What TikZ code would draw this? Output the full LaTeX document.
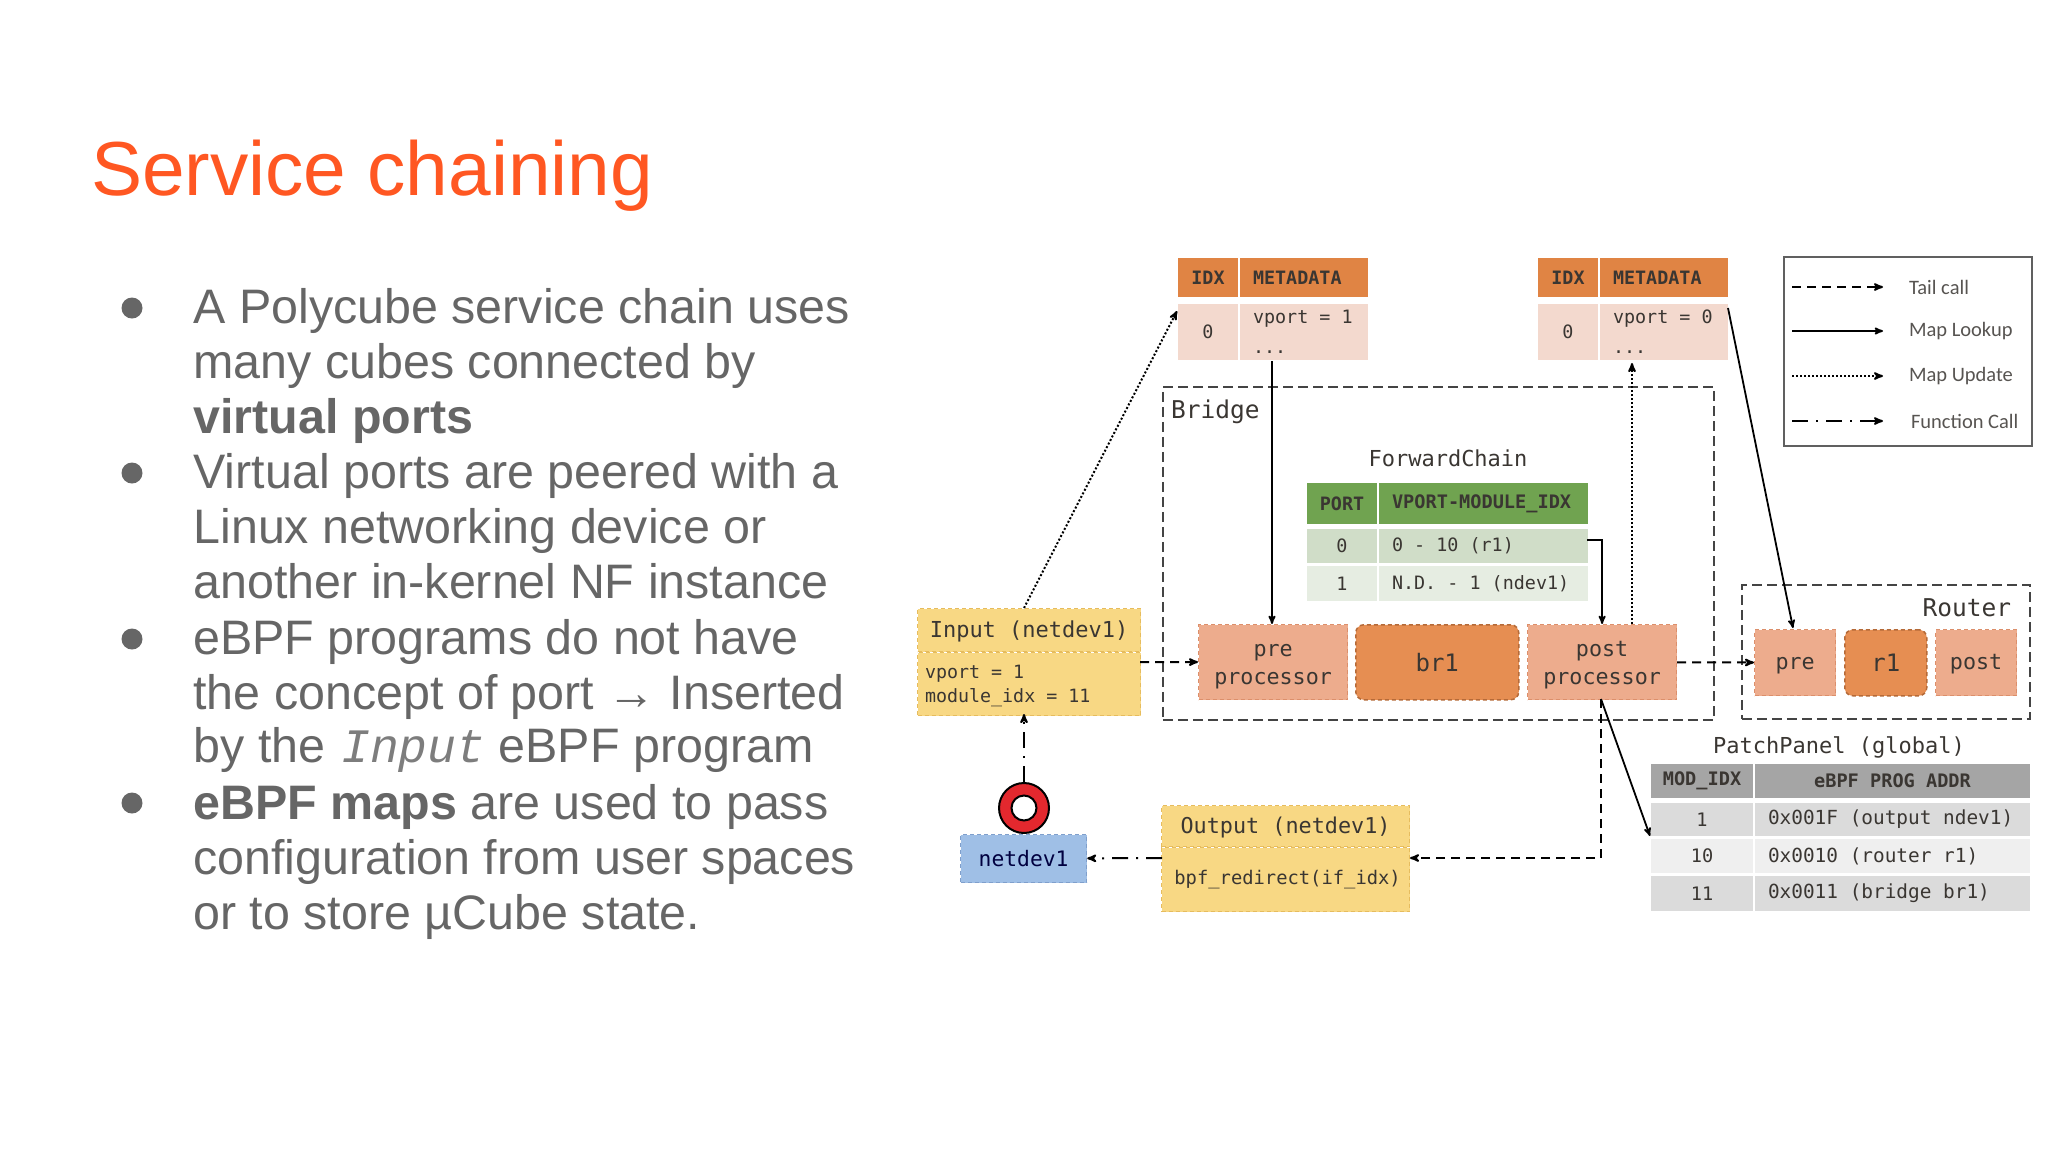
\documentclass[tikz,border=0pt]{standalone}
\usepackage{fontspec}
\setmainfont{Liberation Sans}
\newfontfamily\diagmono{DejaVu Sans Mono}
\newfontfamily\legendfont{Carlito}
\newfontfamily\inputfont{Liberation Mono}
\usetikzlibrary{graphs, arrows, positioning}

\definecolor{titleorange}{HTML}{FF5722}
\definecolor{bodygrey}{HTML}{666666}
\definecolor{inktext}{HTML}{3A3632}
\definecolor{hdrorange}{HTML}{E08444}
\definecolor{cellorange}{HTML}{F3D9CE}
\definecolor{hdrgreen}{HTML}{70A350}
\definecolor{rowgreena}{HTML}{D0DDC8}
\definecolor{rowgreenb}{HTML}{E6EDE2}
\definecolor{hdrgrey}{HTML}{A5A5A5}
\definecolor{rowgreya}{HTML}{DBDBDB}
\definecolor{rowgreyb}{HTML}{EFEFEF}
\definecolor{procfill}{HTML}{EDAC8D}
\definecolor{procdash}{HTML}{DC8F6B}
\definecolor{cubefill}{HTML}{E68E52}
\definecolor{cubedash}{HTML}{B56A38}
\definecolor{yellowfill}{HTML}{F8D884}
\definecolor{yellowdash}{HTML}{E6BC5E}
\definecolor{bluefill}{HTML}{9FBFE6}
\definecolor{bluedash}{HTML}{7F9FCC}
\definecolor{ringred}{HTML}{E3282E}
\definecolor{groupline}{HTML}{444444}

\newcommand{\monofs}[2]{\diagmono\fontsize{#1}{#2}\selectfont}
\newcommand{\twoup}{\rule{0pt}{22pt}}
\newcommand{\oneup}{\rule{0pt}{19pt}}

\tikzset{
    cellc/.style 2 args={minimum width=#1, minimum height=#2, inner sep=0pt, anchor=center, text=inktext},
    celll/.style 2 args={text width=#1, minimum height=#2, inner xsep=13pt, inner ysep=0pt, align=flush left, anchor=center, text=inktext},
    tablefig/.style={matrix anchor=north west, inner sep=0pt, row sep=0pt, column sep=2pt},
    tailcall/.style={dash pattern=on 9pt off 6pt},
    maplookup/.style={line width=1.8pt},
    mapupdate/.style={dash pattern=on 2pt off 2pt},
    funccall/.style={dash pattern=on 16pt off 8pt on 2pt off 8pt},
    procbox/.style={rectangle, fill=procfill, draw=procdash, line width=1.2pt, dash pattern=on 4pt off 3pt, inner sep=0pt, align=center, text=inktext, font=\monofs{21.7}{28}},
    cubebox/.style={rectangle, rounded corners=8pt, fill=cubefill, draw=cubedash, line width=1.5pt, dash pattern=on 4pt off 3pt, inner sep=0pt, text=inktext},
    yellowbox/.style={rectangle, fill=yellowfill, draw=yellowdash, line width=1.2pt, dash pattern=on 4pt off 3pt, inner sep=0pt, text=inktext},
    groupbox/.style={rectangle, draw=groupline, line width=1.6pt, dash pattern=on 10pt off 5pt, inner sep=0pt, anchor=north west},
    bulletdot/.style={circle, fill=bodygrey, minimum size=21pt, inner sep=0pt},
    bodytext/.style={anchor=north west, inner sep=0pt, align=left, text=bodygrey, font=\fontsize{48.4}{55.4}\selectfont},
}

\begin{document}
\begin{tikzpicture}[
        x=1pt,
        y=-1pt,
        > =stealth',
        line width=2pt,
    ]
    \useasboundingbox (0,0) rectangle (2048,1152);

    \node (title) [anchor=base west, inner sep=0pt, text=titleorange, font=\fontsize{76.6}{80}\selectfont] at (90,195) {Service chaining};

    \node (bulleta) [bulletdot] at (132,308) {};
    \node (bulletb) [bulletdot] at (132,473) {};
    \node (bulletc) [bulletdot] at (132,639) {};
    \node (bulletd) [bulletdot] at (132,803) {};
    \node (texta) [bodytext] at (192.5,287) {A Polycube service chain uses\\many cubes connected by\\\textbf{virtual ports}};
    \node (textb) [bodytext] at (192.5,452) {Virtual ports are peered with a\\Linux networking device or\\another in-kernel NF instance};
    \node (textc) [bodytext] at (192.5,618) {eBPF programs do not have\\the concept of port → Inserted\\[-2.5pt]by the\hspace{2.5pt} {\inputfont\itshape\color{bodygrey!85}\fontsize{48}{55}\selectfont Input} eBPF program};
    \node (textd) [bodytext] at (192.5,783) {\textbf{eBPF maps} are used to pass\\configuration from user spaces\\or to store µCube state.};

    \matrix (idxa) [tablefig] at (1177,257) {
        \node (idxahead) [cellc={60pt}{39pt}, fill=hdrorange, font=\bfseries\monofs{18.4}{22}] {IDX} ; &
        \node (metaahead) [celll={102pt}{39pt}, fill=hdrorange, font=\bfseries\monofs{18.4}{22}] {METADATA} ; \\[7pt]
        \node (idxacell) [cellc={60pt}{56pt}, fill=cellorange, font=\monofs{18.4}{22}] {0} ; &
        \node (metaacell) [celll={102pt}{56pt}, fill=cellorange, font=\monofs{18.4}{30}] {vport = 1\\...} ; \\
    } ;

    \matrix (idxb) [tablefig] at (1537,257) {
        \node (idxbhead) [cellc={60pt}{39pt}, fill=hdrorange, font=\bfseries\monofs{18.4}{22}] {IDX} ; &
        \node (metabhead) [celll={102pt}{39pt}, fill=hdrorange, font=\bfseries\monofs{18.4}{22}] {METADATA} ; \\[7pt]
        \node (idxbcell) [cellc={60pt}{56pt}, fill=cellorange, font=\monofs{18.4}{22}] {0} ; &
        \node (metabcell) [celll={102pt}{56pt}, fill=cellorange, font=\monofs{18.4}{30}] {vport = 0\\...} ; \\
    } ;

    \node (bridge) [groupbox, minimum width=551pt, minimum height=333pt] at (1162,386) {};
    \node (bridgelab) [anchor=west, inner sep=0pt, text=inktext, font=\monofs{24.5}{28}] at (1170,412) {Bridge};
    \node (router) [groupbox, minimum width=288pt, minimum height=134pt] at (1741,584) {};
    \node (routerlab) [anchor=east, inner sep=0pt, text=inktext, font=\monofs{24.5}{28}] at (2012,608) {Router};

    \node (fwtitle) [text=inktext, font=\monofs{22}{26}] at (1448,458) {ForwardChain};
    \matrix (fwtable) [tablefig] at (1306,482) {
        \node (fwhport) [cellc={70pt}{41pt}, fill=hdrgreen, font=\bfseries\monofs{18.4}{22}] {PORT} ; &
        \node (fwhmod) [celll={183pt}{41pt}, fill=hdrgreen, font=\bfseries\monofs{18.6}{22}] {VPORT-MODULE\_IDX} ; \\[5pt]
        \node (fwporta) [cellc={70pt}{34pt}, fill=rowgreena, font=\monofs{18.4}{22}] {0} ; &
        \node (fwmoda) [celll={183pt}{34pt}, fill=rowgreena, font=\monofs{18.4}{22}] {0 - 10 (r1)} ; \\[3pt]
        \node (fwportb) [cellc={70pt}{35pt}, fill=rowgreenb, font=\monofs{18.4}{22}] {1} ; &
        \node (fwmodb) [celll={183pt}{35pt}, fill=rowgreenb, font=\monofs{18.4}{22}] {N.D. - 1 (ndev1)} ; \\
    } ;

    \node (inputtitle) [yellowbox, anchor=north west, minimum width=223pt, minimum height=43pt, font=\monofs{22}{24}] at (917,608) {\rule{0pt}{20pt}Input (netdev1)\hspace{14pt}};
    \node (inputbody) [yellowbox, below=0pt of inputtitle, minimum width=223pt, minimum height=63pt, align=left, font=\monofs{18.3}{24}] {\rule{0pt}{16pt}\makebox[208pt][l]{vport = 1}\\module\_idx = 11};

    \node (prebr) [procbox, anchor=north west, minimum width=149pt, minimum height=75pt] at (1198,624) {\twoup pre\\processor};
    \node (br1) [cubebox, anchor=north west, minimum width=163pt, minimum height=75pt, font=\monofs{24}{28}] at (1355,624) {br1};
    \node (postbr) [procbox, anchor=north west, minimum width=149pt, minimum height=75pt] at (1527,624) {\twoup post\\processor};

    \node (prer) [procbox, anchor=north west, minimum width=81pt, minimum height=66pt] at (1754,629) {\oneup pre};
    \node (r1) [cubebox, anchor=north west, minimum width=82pt, minimum height=66pt, font=\monofs{24}{28}] at (1844,629) {r1\hspace{4pt}};
    \node (postr) [procbox, anchor=north west, minimum width=81pt, minimum height=66pt] at (1935,629) {\oneup post};

    \node (patchtitle) [text=inktext, font=\monofs{22}{26}] at (1839,747) {PatchPanel (global)};
    \matrix (patch) [tablefig] at (1650,763) {
        \node (pthmod) [cellc={102pt}{34pt}, fill=hdrgrey, font=\bfseries\monofs{18.6}{22}] {MOD\_IDX} ; &
        \node (pthaddr) [cellc={275pt}{34pt}, fill=hdrgrey, font=\bfseries\monofs{18.6}{22}] {eBPF PROG ADDR} ; \\[5pt]
        \node (ptmoda) [cellc={102pt}{33pt}, fill=rowgreya, font=\monofs{18.6}{22}] {1} ; &
        \node (ptaddra) [celll={249pt}{33pt}, fill=rowgreya, font=\monofs{19.4}{22}] {0x001F (output ndev1)} ; \\[3pt]
        \node (ptmodb) [cellc={102pt}{34pt}, fill=rowgreyb, font=\monofs{18.6}{22}] {10} ; &
        \node (ptaddrb) [celll={249pt}{34pt}, fill=rowgreyb, font=\monofs{19.4}{22}] {0x0010 (router r1)} ; \\[3pt]
        \node (ptmodc) [cellc={102pt}{35pt}, fill=rowgreya, font=\monofs{18.6}{22}] {11} ; &
        \node (ptaddrc) [celll={249pt}{35pt}, fill=rowgreya, font=\monofs{19.4}{22}] {0x0011 (bridge br1)} ; \\
    } ;

    \node (outputtitle) [yellowbox, anchor=north west, minimum width=248pt, minimum height=41pt, font=\monofs{21.8}{24}] at (1161,805) {\rule{0pt}{19pt}Output (netdev1)};
    \node (outputbody) [yellowbox, below=0pt of outputtitle, minimum width=248pt, minimum height=64pt, font=\monofs{18.8}{24}] {\hspace{4pt}bpf\_redirect(if\_idx)};

    \node (netdev) [rectangle, anchor=north west, fill=bluefill, draw=bluedash, line width=1.2pt, dash pattern=on 4pt off 3pt, minimum width=126pt, minimum height=48pt, inner sep=0pt, text=black!75!blue, font=\monofs{21.3}{24}] at (960,834) {netdev1};
    \node (ring) [circle, fill=ringred, draw=black, line width=2pt, minimum size=50pt, inner sep=0pt] at (1024,808) {};
    \node (ringhole) [circle, fill=white, draw=black, line width=2pt, minimum size=25pt, inner sep=0pt] at (1024,808) {};

    \node (legend) [rectangle, anchor=north west, draw=groupline!85, line width=2pt, minimum width=248pt, minimum height=189pt, inner sep=0pt] at (1783,256) {};
    \foreach \row/\sty/\lab/\rowy/\labx in {
            tail/tailcall/Tail call/287/1908,
            lookup/maplookup/Map Lookup/331/1908,
            update/mapupdate/Map Update/376/1908,
            func/funccall/Function Call/421/1910} {
        \coordinate (\row from) at (1792,\rowy);
        \coordinate (\row to) at (1883,\rowy);
        \draw[->, \sty] (\row from) -- (\row to);
        \node (\row lab) [anchor=west, inner sep=0pt, text=inktext!85, font=\legendfont\fontsize{20.5}{24}\selectfont] at (\labx,\rowy) {\lab};
    }

    \coordinate (inputport) at (1140,662);
    \coordinate (inputtop) at (1024,608);
    \coordinate (inputlow) at (1024,714);
    \coordinate (metaain) at (1177,311);
    \coordinate (metaalow) at (1272,361);
    \coordinate (prebrtop) at (1272,624);
    \coordinate (postbrtop) at (1632,624);
    \coordinate (metablow) at (1632,363);
    \coordinate (metabport) at (1728,308);
    \coordinate (prertop) at (1793,628);
    \coordinate (postbrlow) at (1601,699);
    \coordinate (patchport) at (1650,836);
    \coordinate (fwport) at (1587,540);
    \coordinate (outputeast) at (1410,858);
    \coordinate (outputwest) at (1162,858);

    \graph[use existing nodes]{
        inputport ->[tailcall] prebr ;
        postbr ->[tailcall] prer ;
        inputtop ->[mapupdate] metaain ;
        postbrtop ->[mapupdate] metablow ;
        metaalow ->[maplookup] prebrtop ;
        metabport ->[maplookup] prertop ;
        postbrlow ->[maplookup] patchport ;
        outputwest ->[funccall] netdev ;
        ring ->[funccall] inputlow ;
    } ;

    \draw[->, maplookup] (fwport) -| (postbr.north);
    \draw[->, tailcall] (postbrlow) |- (outputeast);
\end{tikzpicture}
\end{document}
